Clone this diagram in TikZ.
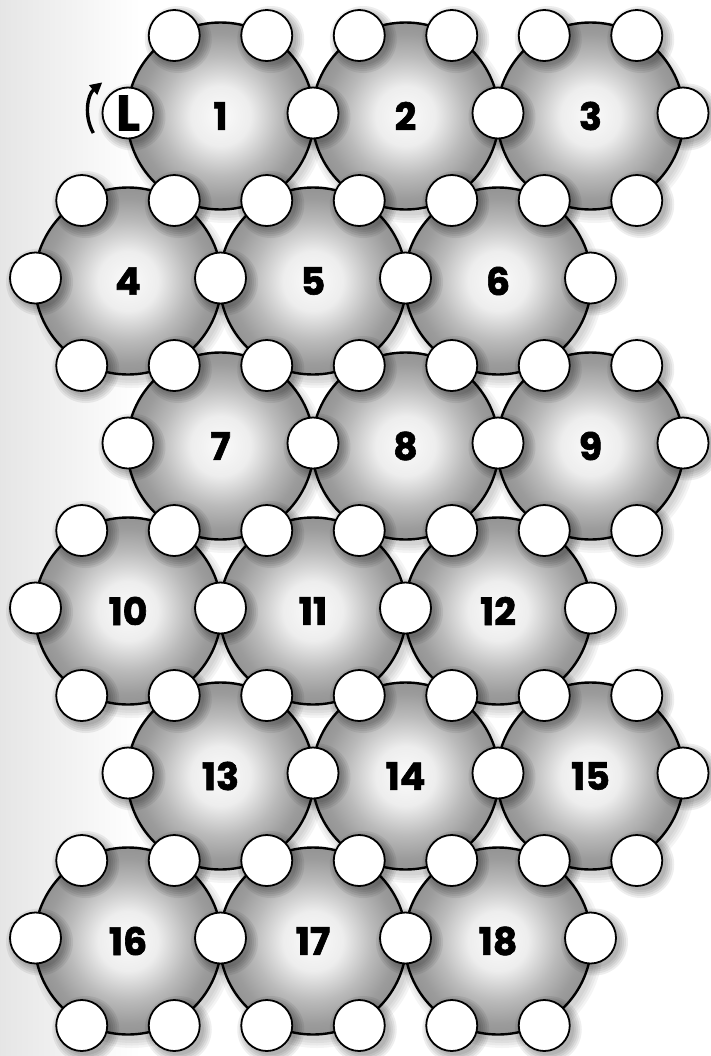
\documentclass[tikz,border=0pt]{standalone}
\usepackage{fontspec}
\setmainfont{Poppins}
\newfontfamily\numfont{Poppins}[BoldFeatures={FakeBold=1.6}]
\usetikzlibrary{arrows.meta}
\pgfdeclareradialshading{hexshade}{\pgfpoint{0bp}{0bp}}{color(0bp)=(black!2); color(8bp)=(black!7); color(16bp)=(black!27); color(22bp)=(black!39); color(25bp)=(black!42); color(50bp)=(black!42)}
\tikzset{
  hexdisk/.style={circle, draw=black, line width=2.4bp, shading=hexshade, minimum size=187bp, inner sep=0pt, font=\numfont\bfseries\fontsize{38}{38}\selectfont},
  vert/.style={circle, draw=black, line width=1.8bp, fill=white, minimum size=51bp, inner sep=0pt},
  hexshadow/.style={fill=black, opacity=0.045},
  vshadow/.style={fill=black, opacity=0.065},
}
\newcommand\myvrow[2]{%
  \foreach \i in {#2}{%
    \pgfmathsetmacro\vx{220.5+46.25*\i}%
    \pgfmathsetmacro\vy{118+82.5*(#1)-5*(1-mod(abs(#1),2))}%
    \foreach \k in {0,...,4}{\fill[vshadow] (\vx+4,\vy+4) circle ({25.5+2*\k});}%
    \node[vert] (v\i-#1) at (\vx,\vy) {};
  }%
}
\begin{document}
\begin{tikzpicture}[x=1bp,y=-1bp]
\useasboundingbox (0,0) rectangle (711,1056);
\fill[white] (0,0) rectangle (711,1056);
\shade[left color=black!10, right color=white] (0,0) rectangle (140,1056);
% hex shadows
\foreach \n/\i/\r in {1/0/0,2/4/0,3/8/0,4/-2/1,5/2/1,6/6/1,7/0/2,8/4/2,9/8/2,10/-2/3,11/2/3,12/6/3,13/0/4,14/4/4,15/8/4,16/-2/5,17/2/5,18/6/5}{
  \pgfmathsetmacro\cx{220.5+46.25*\i}
  \pgfmathsetmacro\cy{118+165*\r}
  \foreach \k in {1,...,4}{\fill[hexshadow] (\cx+4,\cy+4) circle ({91+2.5*\k});}
}
% hexes
\foreach \n/\i/\r in {1/0/0,2/4/0,3/8/0,4/-2/1,5/2/1,6/6/1,7/0/2,8/4/2,9/8/2,10/-2/3,11/2/3,12/6/3,13/0/4,14/4/4,15/8/4,16/-2/5,17/2/5,18/6/5}{
  \pgfmathsetmacro\cx{220.5+46.25*\i}
  \pgfmathsetmacro\cy{118+165*\r}
  \node[hexdisk] (h\n) at (\cx,\cy-2) {\n};
}
% vertex circles
\myvrow{-1}{-1,1,3,5,7,9}
\myvrow{0}{2,6,10}
\myvrow{1}{-3,-1,1,3,5,7,9}
\myvrow{2}{-4,0,4,8}
\myvrow{3}{-3,-1,1,3,5,7,9}
\myvrow{4}{-2,2,6,10}
\myvrow{5}{-3,-1,1,3,5,7,9}
\myvrow{6}{-4,0,4,8}
\myvrow{7}{-3,-1,1,3,5,7,9}
\myvrow{8}{-2,2,6,10}
\myvrow{9}{-3,-1,1,3,5,7,9}
\myvrow{10}{-4,0,4,8}
\myvrow{11}{-3,-1,1,3,5,7}
% L circle
\foreach \k in {0,...,4}{\fill[vshadow] (128+4,113+4) circle ({25.5+2*\k});}
\node[vert, font=\numfont\bfseries\fontsize{50}{50}\selectfont] (L) at (128,113) {L};
\draw[line width=3.4bp, -{Triangle[length=12bp,width=12bp]}] ([shift={(150:40)}]L.center) arc[start angle=150, end angle=230, radius=40];
\end{tikzpicture}
\end{document}
